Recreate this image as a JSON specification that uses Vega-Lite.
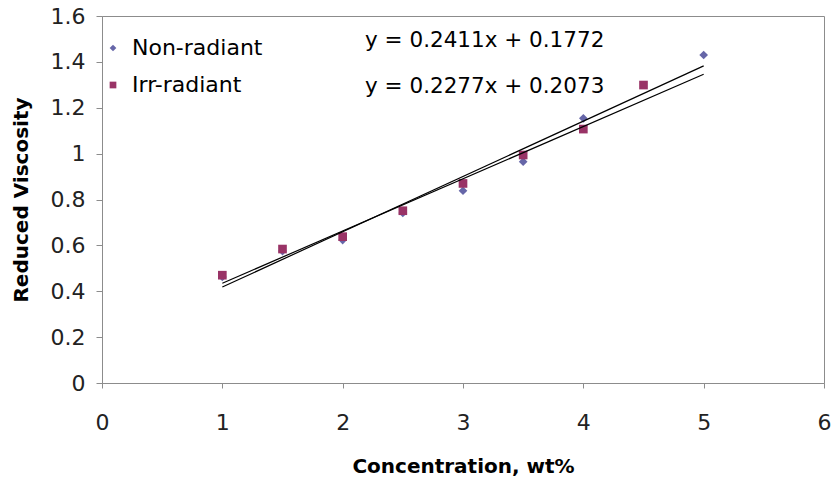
{
  "$schema": "https://vega.github.io/schema/vega-lite/v6.json",
  "autosize": "none",
  "width": 722,
  "height": 367,
  "padding": {"left": 102, "top": 16, "right": 11, "bottom": 102},
  "background": "white",
  "config": {
    "view": {"stroke": "#8c8c8c", "strokeWidth": 1},
    "font": "DejaVu Sans"
  },
  "datasets": {
    "points": [
      {"series": "Non-radiant", "conc": 1, "rv": 0.462},
      {"series": "Non-radiant", "conc": 1.5, "rv": 0.575},
      {"series": "Non-radiant", "conc": 2, "rv": 0.623},
      {"series": "Non-radiant", "conc": 2.5, "rv": 0.741},
      {"series": "Non-radiant", "conc": 3, "rv": 0.838},
      {"series": "Non-radiant", "conc": 3.5, "rv": 0.965},
      {"series": "Non-radiant", "conc": 4, "rv": 1.154},
      {"series": "Non-radiant", "conc": 5, "rv": 1.43},
      {"series": "Irr-radiant", "conc": 1, "rv": 0.47},
      {"series": "Irr-radiant", "conc": 1.5, "rv": 0.584},
      {"series": "Irr-radiant", "conc": 2, "rv": 0.638},
      {"series": "Irr-radiant", "conc": 2.5, "rv": 0.751},
      {"series": "Irr-radiant", "conc": 3, "rv": 0.87},
      {"series": "Irr-radiant", "conc": 3.5, "rv": 0.994},
      {"series": "Irr-radiant", "conc": 4, "rv": 1.107},
      {"series": "Irr-radiant", "conc": 4.5, "rv": 1.299}
    ],
    "trend": [
      {"line": "Non-radiant", "conc": 1, "rv": 0.4183},
      {"line": "Non-radiant", "conc": 5, "rv": 1.3827},
      {"line": "Irr-radiant", "conc": 1, "rv": 0.435},
      {"line": "Irr-radiant", "conc": 5, "rv": 1.3458}
    ],
    "labels": [
      {"eq": "y = 0.2411x + 0.1772", "lx": 2.186, "ly": 1.491},
      {"eq": "y = 0.2277x + 0.2073", "lx": 2.186, "ly": 1.29}
    ]
  },
  "layer": [
    {
      "data": {"name": "points"},
      "mark": {"type": "point", "filled": true, "opacity": 1, "size": 75},
      "encoding": {
        "x": {
          "field": "conc", "type": "quantitative",
          "scale": {"domain": [0, 6], "nice": false},
          "axis": {
            "title": "Concentration, wt%",
            "titleFont": "DejaVu Sans", "titleFontSize": 20, "titleFontWeight": "bold",
            "titleColor": "black", "titlePadding": 23,
            "labelFontSize": 22, "labelColor": "#222", "labelPadding": 24,
            "labelFlush": false, "labelOverlap": false,
            "format": "d",
            "values": [0, 1, 2, 3, 4, 5, 6], "grid": false,
            "domainColor": "#8c8c8c", "tickColor": "#8c8c8c", "tickSize": 5
          }
        },
        "y": {
          "field": "rv", "type": "quantitative",
          "scale": {"domain": [0, 1.6], "nice": false},
          "axis": {
            "title": "Reduced Viscosity",
            "titleFont": "DejaVu Sans", "titleFontSize": 20, "titleFontWeight": "bold",
            "titleColor": "black", "titlePadding": 19,
            "labelFontSize": 22, "labelColor": "#222", "labelPadding": 11,
            "labelFlush": false, "labelOverlap": false,
            "format": ".1~f",
            "values": [0, 0.2, 0.4, 0.6, 0.8, 1, 1.2, 1.4, 1.6], "grid": false,
            "domainColor": "#8c8c8c", "tickColor": "#8c8c8c", "tickSize": 6
          }
        },
        "color": {
          "field": "series", "type": "nominal",
          "scale": {"domain": ["Non-radiant", "Irr-radiant"], "range": ["#6666a8", "#993366"]},
          "legend": {
            "title": null, "orient": "none", "legendX": 0, "legendY": 21,
            "labelFontSize": 22, "labelColor": "black", "symbolSize": 45,
            "rowPadding": 15, "labelOffset": 8
          }
        },
        "shape": {
          "field": "series", "type": "nominal",
          "scale": {"domain": ["Non-radiant", "Irr-radiant"], "range": ["diamond", "square"]},
          "legend": null
        }
      }
    },
    {
      "data": {"name": "trend"},
      "mark": {"type": "line", "color": "black", "strokeWidth": 1.2},
      "encoding": {
        "x": {"field": "conc", "type": "quantitative"},
        "y": {"field": "rv", "type": "quantitative"},
        "detail": {"field": "line", "type": "nominal"}
      }
    },
    {
      "data": {"name": "labels"},
      "mark": {"type": "text", "align": "left", "baseline": "middle", "fontSize": 21.5, "color": "black", "font": "DejaVu Sans"},
      "encoding": {
        "x": {"field": "lx", "type": "quantitative"},
        "y": {"field": "ly", "type": "quantitative"},
        "text": {"field": "eq", "type": "nominal"}
      }
    }
  ]
}
